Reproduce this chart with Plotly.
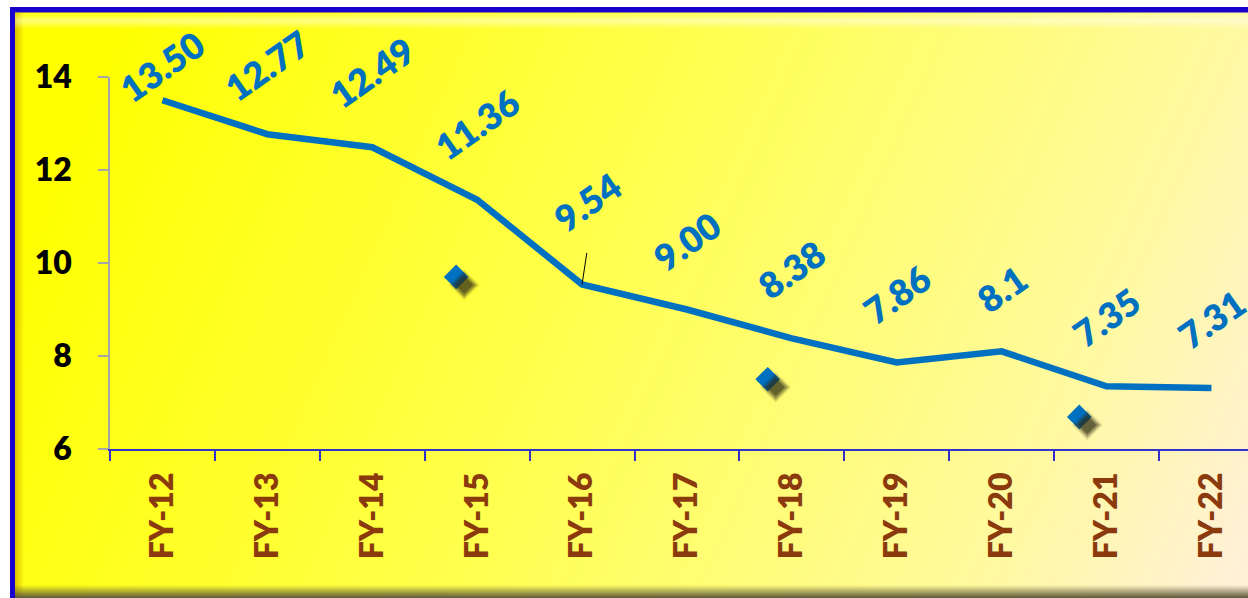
import base64
import plotly.graph_objects as go

# ---------------- data ----------------
categories = ["FY-12", "FY-13", "FY-14", "FY-15", "FY-16", "FY-17",
              "FY-18", "FY-19", "FY-20", "FY-21", "FY-22"]
values = [13.50, 12.77, 12.49, 11.36, 9.54, 9.00, 8.38, 7.86, 8.1, 7.35, 7.31]
value_labels = ["13.50", "12.77", "12.49", "11.36", "9.54", "9.00",
                "8.38", "7.86", "8.1", "7.35", "7.31"]
diamond_x = [2.80, 5.77, 8.74]
diamond_y = [9.70, 7.50, 6.69]
y_ticks = [6, 8, 10, 12, 14]

# ---------------- geometry / style ----------------
W, H = 1248, 598
ML, MR, MT, MB = 110, 0, 77, 149
PW, PH = W - ML - MR, H - MT - MB
CAT_W = 104.9
XR = [-0.5, -0.5 + PW / CAT_W]
YR = [6, 14]
PX_PER_Y = PH / (YR[1] - YR[0])

BLUE = "#0070C0"
BROWN = "#8B3A0E"
FONT = "Lato"
WEIGHT = 800

# label offsets (pixels) : default above point, a few adjusted
label_dy = {0: 34, 2: 75, 3: 76, 4: 82, 8: 62}
label_dx = {4: 5}
DEFAULT_DY = 69

# ---------------- background (frame + gradient) ----------------
svg = f'''<svg xmlns="http://www.w3.org/2000/svg" width="{W}" height="{H}" viewBox="0 0 {W} {H}" preserveAspectRatio="none">
<defs>
<linearGradient id="g" gradientUnits="userSpaceOnUse" x1="100" y1="50" x2="1250" y2="560">
<stop offset="0" stop-color="#FFFF00"/>
<stop offset="0.44" stop-color="#FFFF50"/>
<stop offset="0.8" stop-color="#FFFA9C"/>
<stop offset="1" stop-color="#FFF0D8"/>
</linearGradient>
<linearGradient id="lb" x1="0" y1="0" x2="1" y2="0">
<stop offset="0" stop-color="#D9B800" stop-opacity="0.9"/>
<stop offset="1" stop-color="#D9B800" stop-opacity="0"/>
</linearGradient>
<linearGradient id="tb" x1="0" y1="0" x2="0" y2="1">
<stop offset="0" stop-color="#FFFFFF" stop-opacity="0.05"/>
<stop offset="0.5" stop-color="#FFFFFF" stop-opacity="0.45"/>
<stop offset="1" stop-color="#FFFFFF" stop-opacity="0"/>
</linearGradient>
<linearGradient id="bb" x1="0" y1="0" x2="0" y2="1">
<stop offset="0" stop-color="#5E5838" stop-opacity="0"/>
<stop offset="1" stop-color="#5E5838" stop-opacity="1"/>
</linearGradient>
</defs>
<rect x="0" y="0" width="{W}" height="{H}" fill="#FFFFFF"/>
<rect x="10" y="7" width="{W}" height="{H}" fill="#1A00CC"/>
<rect x="15" y="12.5" width="{W}" height="{H}" fill="url(#g)"/>
<rect x="15" y="13" width="9" height="{H}" fill="url(#lb)"/>
<rect x="15" y="13" width="{W}" height="16" fill="url(#tb)"/>
<rect x="15" y="585" width="{W}" height="13" fill="url(#bb)"/>
</svg>'''
src = "data:image/svg+xml;base64," + base64.b64encode(svg.encode()).decode()

fig = go.Figure()

# soft shadow of diamonds (on a pixel-shifted overlay axis)
for sz, op in [(24, 0.10), (21, 0.20), (18, 0.32), (14, 0.45)]:
    fig.add_trace(go.Scatter(
        x=diamond_x, y=diamond_y, mode="markers", xaxis="x3", yaxis="y3",
        marker=dict(symbol="diamond", size=sz, color=f"rgba(45,42,20,{op})",
                    line=dict(width=0)),
        hoverinfo="skip", showlegend=False))

fig.add_trace(go.Scatter(
    x=diamond_x, y=diamond_y, mode="markers", xaxis="x2", yaxis="y2",
    marker=dict(symbol="diamond", size=19, color=BLUE, line=dict(width=0)),
    showlegend=False))

fig.add_trace(go.Scatter(
    x=categories, y=values, mode="lines",
    line=dict(color=BLUE, width=6.5),
    showlegend=False))

annotations = []
for i, (c, v, t) in enumerate(zip(categories, values, value_labels)):
    annotations.append(dict(
        x=c, y=v, xref="x", yref="y", text=t, showarrow=False,
        textangle=-35, xanchor="center", yanchor="middle",
        xshift=label_dx.get(i, 0), yshift=label_dy.get(i, DEFAULT_DY),
        font=dict(family=FONT, size=36, color=BLUE, weight=WEIGHT)))

# leader line for 9.54
annotations.append(dict(
    x=categories[4], y=values[4], xref="x", yref="y", text="",
    showarrow=True, arrowhead=0, arrowwidth=1, arrowcolor="black",
    ax=5, ay=-33, standoff=0, startstandoff=0))

sx = 8 / CAT_W
sy = 8 / PX_PER_Y

fig.update_layout(
    width=W, height=H,
    margin=dict(l=ML, r=MR, t=MT, b=MB, pad=0),
    paper_bgcolor="white", plot_bgcolor="rgba(0,0,0,0)",
    showlegend=False,
    images=[dict(source=src, xref="paper", yref="paper",
                 x=-ML / PW, y=1 + MT / PH, sizex=W / PW, sizey=H / PH,
                 xanchor="left", yanchor="top", sizing="stretch",
                 layer="below")],
    xaxis=dict(type="category", range=XR, tickson="boundaries",
               showgrid=False, zeroline=False,
               showline=True, linecolor="#3333CC", linewidth=1.5,
               ticks="outside", ticklen=10, tickcolor="#3333CC", tickwidth=1.5,
               tickangle=-90, ticklabelstandoff=9,
               tickfont=dict(family=FONT, size=32, color=BROWN, weight=WEIGHT)),
    yaxis=dict(range=YR, tickvals=y_ticks, showgrid=False, zeroline=False,
               showline=True, linecolor="#A6A6A6", linewidth=1.5,
               ticks="outside", ticklen=10, tickcolor="#A6A6A6", tickwidth=1.5,
               ticklabelstandoff=20,
               tickfont=dict(family=FONT, size=32, color="black", weight=WEIGHT)),
    xaxis2=dict(overlaying="x", anchor="y2", range=XR, visible=False),
    yaxis2=dict(overlaying="y", anchor="x2", range=YR, visible=False),
    xaxis3=dict(overlaying="x", anchor="y3", range=[XR[0] - sx, XR[1] - sx], visible=False),
    yaxis3=dict(overlaying="y", anchor="x3", range=[YR[0] + sy, YR[1] + sy], visible=False),
    annotations=annotations,
)

fig.write_html("out.html")
